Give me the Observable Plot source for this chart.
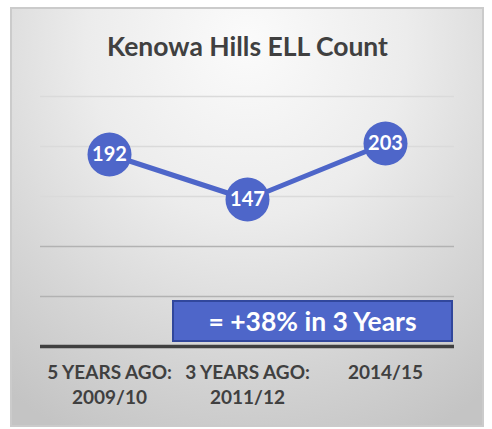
<!DOCTYPE html>
<html>
<head>
<meta charset="utf-8">
<script src="https://cdn.jsdelivr.net/npm/d3@7"></script>
<script src="https://cdn.jsdelivr.net/npm/@observablehq/plot@0.6"></script>
<style>
  html, body { margin: 0; padding: 0; background: #ffffff; }
  #wrap { position: relative; width: 492px; height: 429px; overflow: hidden; font-family: Lato, "Open Sans", sans-serif; }
  #frame { position: absolute; left: 10px; top: 7px; width: 474px; height: 420px; box-sizing: border-box;
    border: 2px solid #cbcbcb;
    background: radial-gradient(ellipse 85% 105% at 50% 8%, #fbfbfb 0%, #ececec 40%, #d6d6d6 72%, #c4c4c4 100%); }
  #chart { position: absolute; left: 0; top: 0; }
  #note { position: absolute; left: 172px; top: 300px; width: 281px; height: 42px; box-sizing: border-box;
    background: #4e66c9; border: 2px solid #31479c; color: #ffffff; font-weight: bold; font-size: 26.5px;
    display: flex; align-items: center; justify-content: center; font-family: Lato, sans-serif; padding-bottom: 1px; }
</style>
</head>
<body>
<div id="wrap">
  <div id="frame"></div>
  <div id="chart"></div>
  <div id="note"></div>
</div>
<script>
const title = "Kenowa Hills ELL Count";
const periods = ["5 YEARS AGO:\n2009/10", "3 YEARS AGO:\n2011/12", "2014/15"];
const counts = [192, 147, 203];
const gridValues = [50, 100, 150, 200, 250];
const note = "= +38% in 3 Years";

const data = periods.map((p, i) => ({period: p, count: counts[i]}));
const blue = "#4e66c9";
const ink = "#404040";

const chart = Plot.plot({
  width: 492,
  height: 429,
  marginLeft: 40,
  marginRight: 38,
  marginTop: 96,
  marginBottom: 83,
  style: {background: "transparent", fontFamily: "Lato, sans-serif"},
  x: {type: "point", domain: periods, padding: 0.5, axis: null},
  y: {domain: [0, 250], axis: null},
  marks: [
    Plot.ruleY(gridValues, {stroke: d => d >= 150 ? "#dadada" : "#b2b2b2", strokeWidth: 1.5}),
    Plot.ruleY([0], {stroke: ink, strokeWidth: 3.5}),
    Plot.line(data, {x: "period", y: "count", stroke: blue, strokeWidth: 5}),
    Plot.dot(data, {x: "period", y: "count", r: 22, fill: blue, stroke: "none"}),
    Plot.text(data, {x: "period", y: "count", text: d => String(d.count), fill: "white", fontSize: 20, fontWeight: "bold"}),
    Plot.text(data, {x: "period", text: "period", frameAnchor: "bottom", lineAnchor: "top", dy: 14,
      lineHeight: 1.35, fontSize: 19, fontWeight: "bold", fill: ink}),
    Plot.text([title], {frameAnchor: "top", dy: -59, text: d => d, fontSize: 26.5, fontWeight: "bold", fill: ink})
  ]
});
document.getElementById("chart").appendChild(chart);
document.getElementById("note").textContent = note;
</script>
</body>
</html>
